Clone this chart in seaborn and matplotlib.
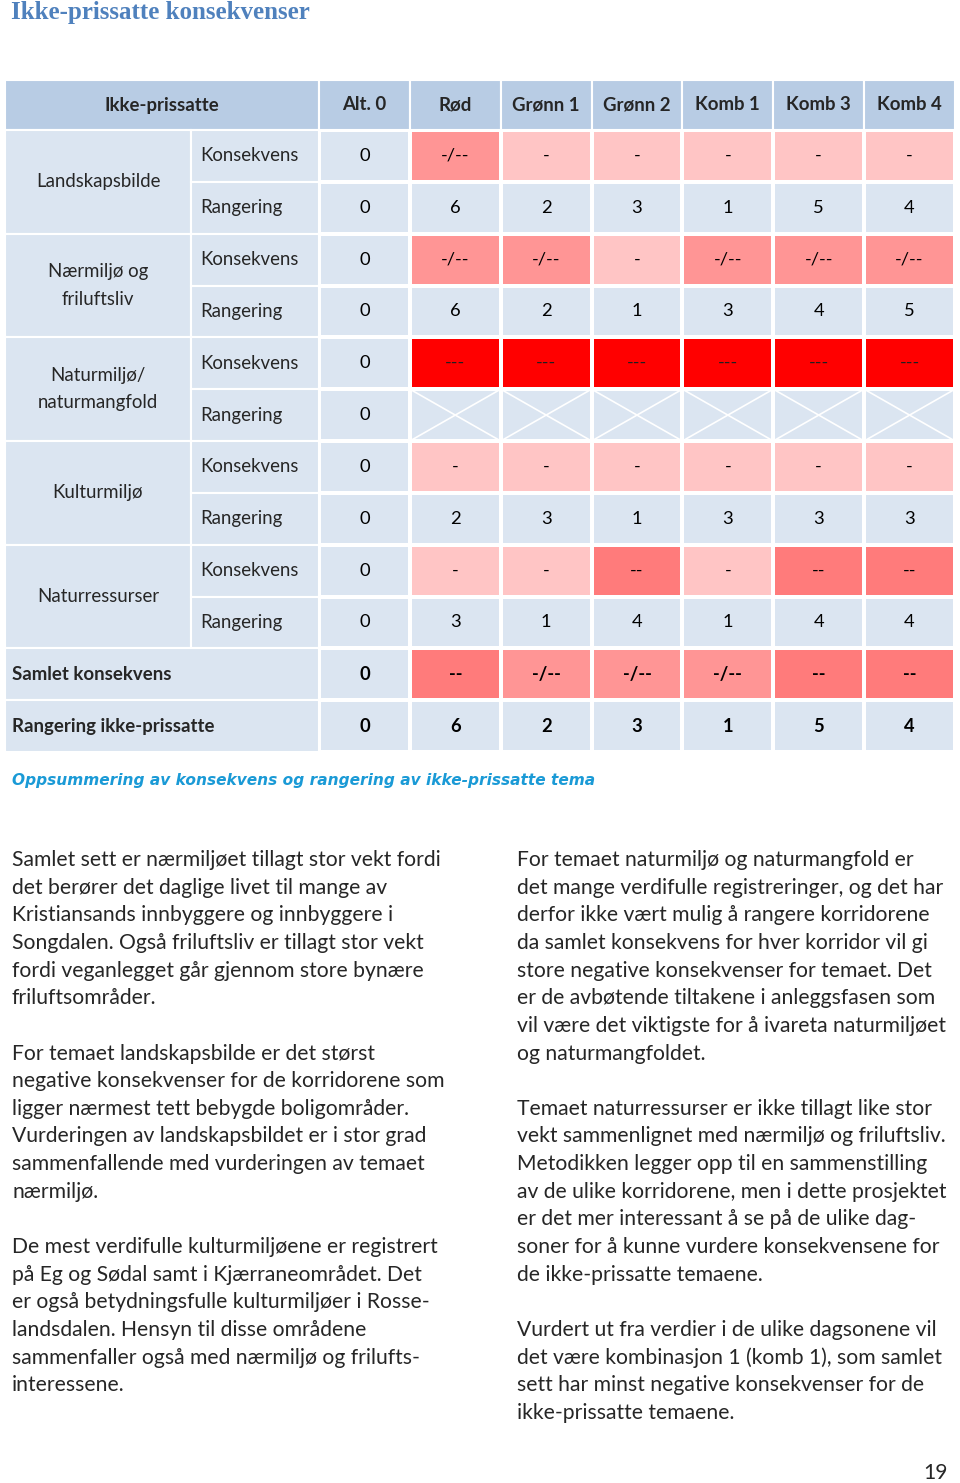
import numpy as np
import pandas as pd
import matplotlib
matplotlib.use("Agg")
import matplotlib.pyplot as plt
import seaborn as sns
from matplotlib.colors import ListedColormap
from matplotlib.patches import Rectangle

# ---------------- data ----------------
title = "Ikke-prissatte konsekvenser"
header_label = "Ikke-prissatte"
columns = ["Alt. 0", "Rød", "Grønn 1", "Grønn 2", "Komb 1", "Komb 3", "Komb 4"]
themes = ["Landskapsbilde", "Nærmiljø og\nfriluftsliv", "Naturmiljø/\nnaturmangfold",
          "Kulturmiljø", "Naturressurser"]
sub_rows = ["Konsekvens", "Rangering"]
summary_rows = ["Samlet konsekvens", "Rangering ikke-prissatte"]

landskap_kons = ["0", "-/--", "-", "-", "-", "-", "-"]
landskap_rang = ["0", "6", "2", "3", "1", "5", "4"]
naer_kons = ["0", "-/--", "-/--", "-", "-/--", "-/--", "-/--"]
naer_rang = ["0", "6", "2", "1", "3", "4", "5"]
natur_kons = ["0", "---", "---", "---", "---", "---", "---"]
natur_rang = ["0", "", "", "", "", "", ""]          # empty = not ranked (crossed)
kultur_kons = ["0", "-", "-", "-", "-", "-", "-"]
kultur_rang = ["0", "2", "3", "1", "3", "3", "3"]
ressurs_kons = ["0", "-", "-", "--", "-", "--", "--"]
ressurs_rang = ["0", "3", "1", "4", "1", "4", "4"]
samlet_kons = ["0", "--", "-/--", "-/--", "-/--", "--", "--"]
samlet_rang = ["0", "6", "2", "3", "1", "5", "4"]

caption = "Oppsummering av konsekvens og rangering av ikke-prissatte tema"

left_text = [
    "Samlet sett er nærmiljøet tillagt stor vekt fordi",
    "det berører det daglige livet til mange av",
    "Kristiansands innbyggere og innbyggere i",
    "Songdalen. Også friluftsliv er tillagt stor vekt",
    "fordi veganlegget går gjennom store bynære",
    "friluftsområder.",
    "",
    "For temaet landskapsbilde er det størst",
    "negative konsekvenser for de korridorene som",
    "ligger nærmest tett bebygde boligområder.",
    "Vurderingen av landskapsbildet er i stor grad",
    "sammenfallende med vurderingen av temaet",
    "nærmiljø.",
    "",
    "De mest verdifulle kulturmiljøene er registrert",
    "på Eg og Sødal samt i Kjærraneområdet. Det",
    "er også betydningsfulle kulturmiljøer i Rosse-",
    "landsdalen. Hensyn til disse områdene",
    "sammenfaller også med nærmiljø og frilufts-",
    "interessene.",
]
right_text = [
    "For temaet naturmiljø og naturmangfold er",
    "det mange verdifulle registreringer, og det har",
    "derfor ikke vært mulig å rangere korridorene",
    "da samlet konsekvens for hver korridor vil gi",
    "store negative konsekvenser for temaet. Det",
    "er de avbøtende tiltakene i anleggsfasen som",
    "vil være det viktigste for å ivareta naturmiljøet",
    "og naturmangfoldet.",
    "",
    "Temaet naturressurser er ikke tillagt like stor",
    "vekt sammenlignet med nærmiljø og friluftsliv.",
    "Metodikken legger opp til en sammenstilling",
    "av de ulike korridorene, men i dette prosjektet",
    "er det mer interessant å se på de ulike dag-",
    "soner for å kunne vurdere konsekvensene for",
    "de ikke-prissatte temaene.",
    "",
    "Vurdert ut fra verdier i de ulike dagsonene vil",
    "det være kombinasjon 1 (komb 1), som samlet",
    "sett har minst negative konsekvenser for de",
    "ikke-prissatte temaene.",
]
page_number = "19"

# ---------------- styling ----------------
sns.set_theme(style="white")
plt.rcParams["font.family"] = ["Lato", "DejaVu Sans"]

W, H = 960, 1483
fig = plt.figure(figsize=(W / 100, H / 100), dpi=100)
fig.patch.set_facecolor("white")

HEADER_BG = "#b8cce4"
CELL_BG = "#dbe5f1"
sev_colors = [CELL_BG, "#ffc5c5", "#ff9595", "#ff7b7b", "#ff0000"]
sev_code = {"-": 1, "-/--": 2, "--": 3, "---": 4}

# geometry (pixels)
tab_left, tab_right = 5, 955
col1_right, col2_right = 191, 319
head_top, body_top, body_bottom = 80, 130, 752
ncol = len(columns)
col_w = (tab_right - col2_right) / ncol
row_h = (body_bottom - body_top) / 12

bg = fig.add_axes([0, 0, 1, 1])
bg.set_xlim(0, W)
bg.set_ylim(H, 0)
bg.axis("off")

FS = 13.4
AFS = 13.2

def cell(x, y, w, h, color):
    bg.add_patch(Rectangle((x, y), w, h, facecolor=color, edgecolor="white", lw=1.5))

# title
bg.text(11, 12, title, fontsize=18, fontweight="bold", color="#4f81bd",
        family=["Liberation Serif", "DejaVu Serif"], va="center", ha="left")

# header
cell(tab_left, head_top, col2_right - tab_left, body_top - head_top, HEADER_BG)
bg.text((tab_left + col2_right) / 2, (head_top + body_top) / 2, header_label,
        fontsize=FS, fontweight="bold", ha="center", va="center")
for i, c in enumerate(columns):
    x0 = col2_right + i * col_w
    cell(x0, head_top, col_w, body_top - head_top, HEADER_BG)
    bg.text(x0 + col_w / 2, (head_top + body_top) / 2, c, fontsize=FS,
            fontweight="bold", ha="center", va="center")

# left label cells
for k, t in enumerate(themes):
    y0 = body_top + 2 * k * row_h
    cell(tab_left, y0, col1_right - tab_left, 2 * row_h, CELL_BG)
    bg.text((tab_left + col1_right) / 2, y0 + row_h, t, fontsize=FS,
            ha="center", va="center", linespacing=1.75)
    for j, s in enumerate(sub_rows):
        yy = y0 + j * row_h
        cell(col1_right, yy, col2_right - col1_right, row_h, CELL_BG)
        bg.text(col1_right + 9, yy + row_h / 2, s, fontsize=FS, ha="left", va="center")
for j, s in enumerate(summary_rows):
    yy = body_top + (10 + j) * row_h
    cell(tab_left, yy, col2_right - tab_left, row_h, CELL_BG)
    bg.text(12, yy + row_h / 2, s, fontsize=FS, fontweight="bold", ha="left", va="center")

# value grid via seaborn heatmap
rows = [landskap_kons, landskap_rang, naer_kons, naer_rang, natur_kons, natur_rang,
        kultur_kons, kultur_rang, ressurs_kons, ressurs_rang, samlet_kons, samlet_rang]
labels = np.array(rows, dtype=object)
codes = np.array([[sev_code.get(v, 0) for v in r] for r in rows], dtype=float)
df = pd.DataFrame(codes, columns=columns)

hax = fig.add_axes([col2_right / W, 1 - body_bottom / H,
                    (tab_right - col2_right) / W, (body_bottom - body_top) / H])
sns.heatmap(df, ax=hax, cmap=ListedColormap(sev_colors), vmin=-0.5, vmax=4.5,
            cbar=False, annot=labels, fmt="", linewidths=1.5, linecolor="white",
            annot_kws={"fontsize": AFS, "color": "black"},
            xticklabels=False, yticklabels=False)
hax.set_xlabel("")
hax.set_ylabel("")
for n, txt in enumerate(hax.texts):
    r = n // ncol
    if r >= 10:
        txt.set_fontweight("bold")
    if txt.get_text() == "---":
        txt.set_color("#202020")

# crossed cells for unranked entries
for r, row in enumerate(rows):
    for c, v in enumerate(row):
        if v == "":
            hax.plot([c, c + 1], [r, r + 1], color="white", lw=1.2)
            hax.plot([c, c + 1], [r + 1, r], color="white", lw=1.2)

# caption
bg.text(12, 780, caption, fontsize=11.1, fontweight="bold", style="italic",
        family=["DejaVu Sans"], color="#1a9ad6", ha="left", va="center")

# body text
TFS = 15.2
y0 = 860
lh = 27.65
for i, line in enumerate(left_text):
    bg.text(12, y0 + i * lh, line, fontsize=TFS, ha="left", va="center")
for i, line in enumerate(right_text):
    bg.text(517, y0 + i * lh, line, fontsize=TFS, ha="left", va="center")

bg.text(948, 1473, page_number, fontsize=TFS, ha="right", va="center")

fig.savefig("out.png", dpi=100, facecolor="white")
